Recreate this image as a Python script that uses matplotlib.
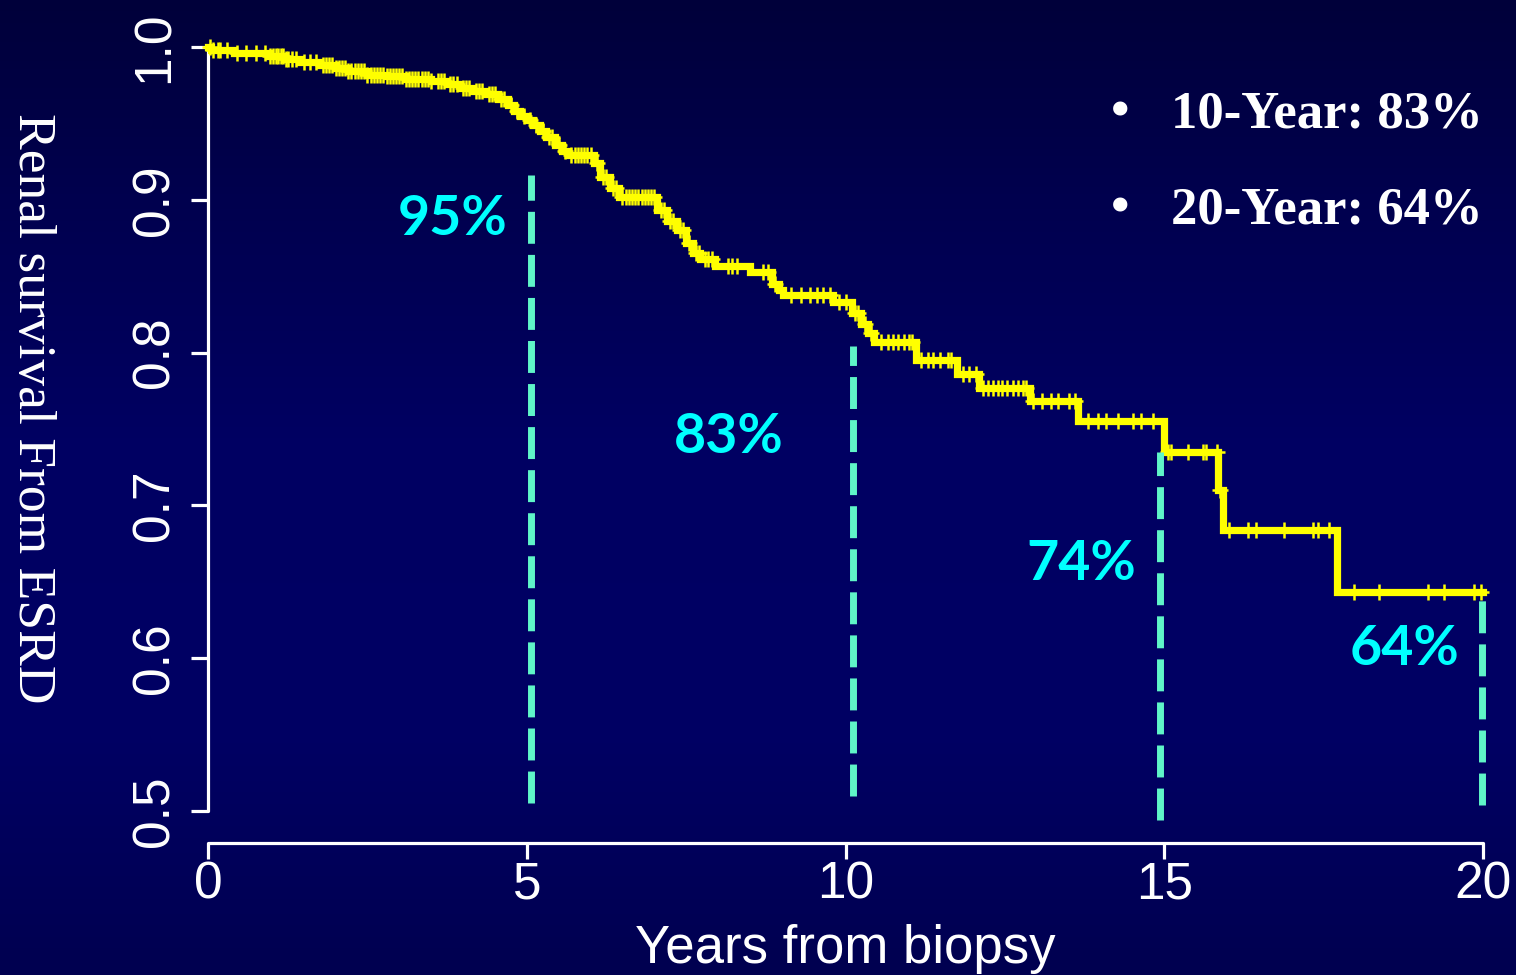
import numpy as np
import matplotlib
matplotlib.use("Agg")
import matplotlib.pyplot as plt
from matplotlib.colors import LinearSegmentedColormap

W, H = 1516, 975

# Kaplan-Meier step estimate: renal survival free of ESRD
event_times = [0.0, 0.05, 0.4, 0.95, 1.2, 1.45, 1.75, 2.0, 2.2, 2.5, 2.8, 3.1,
               3.5, 3.75, 3.95, 4.15, 4.35, 4.55, 4.7, 4.8, 4.9, 5.0, 5.1, 5.2,
               5.3, 5.45, 5.55, 5.65, 6.05, 6.15, 6.3, 6.45, 7.05, 7.2, 7.35,
               7.5, 7.6, 7.72, 7.95, 8.5, 8.85, 8.95, 9.02, 9.8, 10.1, 10.25,
               10.35, 10.45, 11.1, 11.75, 12.1, 12.9, 13.65, 15.0, 15.85, 15.92,
               17.71, 20.0]
survival = [1.0, 0.998, 0.996, 0.994, 0.992, 0.990, 0.988, 0.986, 0.984, 0.982,
            0.981, 0.979, 0.978, 0.976, 0.973, 0.971, 0.969, 0.966, 0.962, 0.958,
            0.955, 0.952, 0.949, 0.945, 0.941, 0.936, 0.932, 0.929, 0.924, 0.915,
            0.908, 0.902, 0.893, 0.886, 0.880, 0.872, 0.865, 0.861, 0.857, 0.853,
            0.845, 0.841, 0.838, 0.833, 0.826, 0.819, 0.813, 0.807, 0.795, 0.786,
            0.777, 0.768, 0.755, 0.735, 0.710, 0.684, 0.643, 0.643]

# censored observations (years)
censor_times = [0.03, 0.08, 0.16, 0.19, 0.3, 0.45, 0.6, 0.75, 0.9, 0.98, 1.02,
                1.06, 1.1, 1.14, 1.18, 1.22, 1.26, 1.32, 1.38, 1.5, 1.6, 1.7,
                1.8, 1.85, 1.9, 1.95, 2.0, 2.05, 2.1, 2.15, 2.2, 2.25, 2.3,
                2.35, 2.4, 2.45, 2.5, 2.55, 2.6, 2.65, 2.7, 2.75, 2.8, 2.85,
                2.9, 2.95, 3.0, 3.05, 3.1, 3.15, 3.2, 3.25, 3.3, 3.35, 3.4,
                3.45, 3.5, 3.6, 3.65, 3.7, 3.8, 3.85, 3.9, 4.0, 4.05, 4.1,
                4.2, 4.25, 4.3, 4.4, 4.45, 4.5, 4.6, 4.65, 4.75, 4.85, 4.95,
                5.05, 5.15, 5.25, 5.35, 5.4, 5.5, 5.6, 5.7, 5.75, 5.8, 5.85,
                5.9, 5.95, 6.0, 6.1, 6.2, 6.25, 6.35, 6.4, 6.5, 6.55, 6.6,
                6.65, 6.7, 6.75, 6.8, 6.85, 6.9, 6.95, 7.0, 7.1, 7.15, 7.25,
                7.3, 7.4, 7.45, 7.55, 7.65, 7.7, 7.8, 7.85, 7.9, 8.15, 8.22,
                8.3, 8.7, 8.78, 8.9, 9.15, 9.3, 9.45, 9.55, 9.65, 9.75, 9.9,
                10.0, 10.15, 10.2, 10.3, 10.4, 10.55, 10.66, 10.74, 10.82,
                10.91, 10.99, 11.05, 11.18, 11.29, 11.38, 11.49, 11.6, 11.65,
                11.84, 11.93, 12.04, 12.15, 12.23, 12.31, 12.39, 12.46, 12.54,
                12.62, 12.7, 12.78, 12.83, 12.94, 13.09, 13.22, 13.34, 13.5,
                13.6, 13.8, 13.96, 14.08, 14.27, 14.51, 14.63, 14.82, 15.06,
                15.1, 15.37, 15.6, 15.65, 15.82, 15.88, 16.01, 16.31, 16.44,
                16.88, 17.33, 17.41, 17.58, 17.97, 18.37, 19.14, 19.39, 19.86,
                19.97]

# reference years and their survival labels
ref_years = [5.06, 10.12, 14.93, 19.98]
ref_tops = [0.916, 0.804, 0.735, 0.640]
ref_bottoms = [0.505, 0.510, 0.494, 0.504]
ref_labels = ["95%", "83%", "74%", "64%"]
ref_label_pos = [(453, 235), (729, 453), (1081, 580), (1404, 665)]

summary_lines = ["10-Year: 83%", "20-Year: 64%"]

x_ticks = [0, 5, 10, 15, 20]
y_ticks = [0.5, 0.6, 0.7, 0.8, 0.9, 1.0]

fig = plt.figure(figsize=(W / 100, H / 100), dpi=100)

# navy gradient background
bg = fig.add_axes([0, 0, 1, 1])
bg.set_axis_off()
cmap = LinearSegmentedColormap.from_list(
    "navy", [(0.0, "#000050"), (0.25, "#000064"), (0.55, "#000062"),
             (0.8, "#00004e"), (1.0, "#00003a")])
grad = np.linspace(0, 1, 256).reshape(-1, 1)
bg.imshow(grad, aspect="auto", cmap=cmap, extent=[0, 1, 0, 1])
bg.set_xlim(0, 1)
bg.set_ylim(1, 0)


def fx(px):
    return px / W


def fy(py):
    return 1 - py / H


px_per_unit = (811 - 47) / 0.5
y_low = 1.0 - (843 - 47) / px_per_unit
ax = fig.add_axes([fx(208), fy(843), fx(1483) - fx(208), fy(47) - fy(843)])
ax.set_facecolor("none")
ax.set_xlim(0, 20)
ax.set_ylim(y_low, 1.0)

for s in ["top", "right"]:
    ax.spines[s].set_visible(False)
for s in ["left", "bottom"]:
    ax.spines[s].set_color("white")
    ax.spines[s].set_linewidth(2.3)
    ax.spines[s].set_capstyle("round")
ax.spines["left"].set_bounds(0.5, 1.0)
ax.spines["bottom"].set_bounds(0, 20)

ax.set_xticks(x_ticks)
ax.set_xticklabels([str(v) for v in x_ticks])
ax.set_yticks(y_ticks)
ax.set_yticklabels([f"{v:.1f}" for v in y_ticks], rotation=90, va="center")
ax.tick_params(axis="x", length=11.5, width=2.3, color="white", pad=1,
               labelsize=37, labelcolor="white")
ax.tick_params(axis="y", length=12.5, width=2.3, color="white", pad=8,
               labelsize=37, labelcolor="white")
for lab in ax.get_xticklabels() + ax.get_yticklabels():
    lab.set_fontfamily("Liberation Sans")

# survival curve
ax.step(event_times, survival, where="post", color="#ffff00", lw=5.2,
        solid_joinstyle="miter", clip_on=False, zorder=3)
idx = np.searchsorted(event_times, censor_times, side="right") - 1
censor_surv = np.asarray(survival)[idx]
ax.plot(censor_times, censor_surv, linestyle="none", marker="+", ms=11,
        mew=1.8, color="#ffff00", clip_on=False, zorder=3)

# dashed reference lines
for xv, top, bot in zip(ref_years, ref_tops, ref_bottoms):
    ln, = ax.plot([xv, xv], [bot, top], color="#5ff5c8", lw=5, clip_on=False,
                  zorder=4, solid_capstyle="butt")
    ln.set_dashes([4.6, 1.6])
    ln.set_dash_capstyle("butt")

for lab, (px, py) in zip(ref_labels, ref_label_pos):
    fig.text(fx(px), fy(py), lab, color="#00ffff", fontsize=40,
             fontweight="bold", fontfamily="Lato", ha="center", va="baseline")

# axis titles
fig.text(fx(845), fy(963), "Years from biopsy", color="white", fontsize=38,
         fontfamily="Liberation Sans", ha="center", va="baseline")
fig.text(fx(32), fy(408), "Renal survival From ESRD", color="white", fontsize=38.5,
         fontfamily="Liberation Serif", rotation=270, ha="center", va="center")

# summary bullets
for line, base in zip(summary_lines, [127, 223]):
    fig.text(fx(1120), fy(base), "\u2022", color="white", fontsize=38,
             fontweight="bold", fontfamily="Liberation Serif", ha="center",
             va="baseline")
    fig.text(fx(1483), fy(base), line, color="white", fontsize=38,
             fontweight="bold", fontfamily="Liberation Serif", ha="right",
             va="baseline")

fig.savefig("out.png", dpi=100)
